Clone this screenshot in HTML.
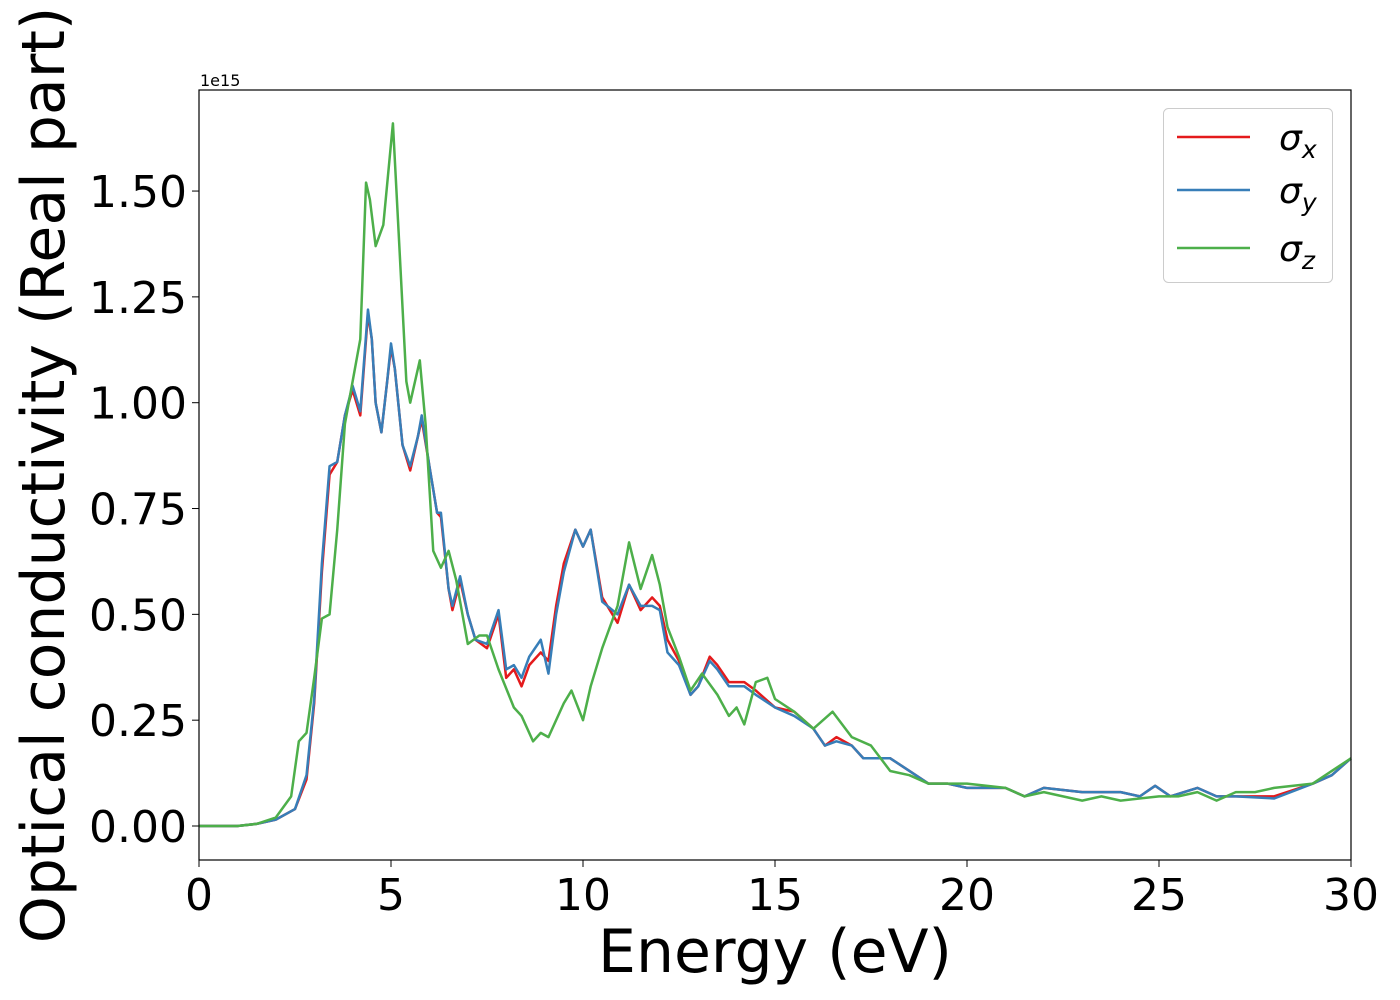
<!DOCTYPE html>
<html><head><meta charset="utf-8"><style>
body{margin:0;background:#fff;}
svg{display:block;font-family:"DejaVu Sans","Liberation Sans",sans-serif;}
</style></head><body>
<svg id="chart" width="1400" height="1000" xmlns="http://www.w3.org/2000/svg">
<g id="plot"></g>
<rect x="199" y="90" width="1152" height="770" fill="none" stroke="#000" stroke-width="1.2"/>
<g id="xticks"></g>
<g id="yticks"></g>
<text x="200" y="86" font-size="16">1e15</text>
<text x="775" y="972" font-size="60" text-anchor="middle">Energy (eV)</text>
<text transform="translate(64,475) rotate(-90)" font-size="60" text-anchor="middle">Optical conductivity (Real part)</text>
<g>
<rect x="1163.5" y="108.5" width="169" height="174" rx="5" fill="#fff" fill-opacity="0.8" stroke="#ccc"/>
<g><line x1="1177" y1="137" x2="1250" y2="137" stroke="#e41a1c" stroke-width="2.5"/><text x="1279" y="150" font-size="36" font-style="italic">σ<tspan font-size="25" dy="8">x</tspan></text></g>
<g><line x1="1177" y1="190" x2="1250" y2="190" stroke="#377eb8" stroke-width="2.5"/><text x="1279" y="203" font-size="36" font-style="italic">σ<tspan font-size="25" dy="8">y</tspan></text></g>
<g><line x1="1177" y1="248" x2="1250" y2="248" stroke="#4daf4a" stroke-width="2.5"/><text x="1279" y="261" font-size="36" font-style="italic">σ<tspan font-size="25" dy="8">z</tspan></text></g>
</g>
</svg>
<script>
const energyXY=[0,1,1.5,2,2.5,2.8,3.0,3.2,3.4,3.6,3.8,4.0,4.2,4.4,4.5,4.6,4.75,4.9,5.0,5.1,5.3,5.5,5.7,5.8,6.0,6.2,6.3,6.5,6.6,6.8,7.0,7.2,7.5,7.8,8.0,8.2,8.4,8.6,8.9,9.1,9.3,9.5,9.8,10.0,10.2,10.5,10.9,11.2,11.5,11.8,12.0,12.2,12.5,12.8,13.0,13.3,13.5,13.8,14.2,14.5,15,15.5,16,16.3,16.6,17,17.3,18,18.5,19,19.5,20,21,21.5,22,23,24,24.5,24.9,25.3,26,26.5,27,28,29,29.5,30];
const sigmaX=[0,0,0.005,0.015,0.04,0.11,0.29,0.6,0.83,0.86,0.97,1.03,0.97,1.21,1.15,1.0,0.93,1.05,1.13,1.08,0.9,0.84,0.92,0.96,0.85,0.74,0.73,0.56,0.51,0.58,0.5,0.44,0.42,0.5,0.35,0.37,0.33,0.38,0.41,0.39,0.52,0.62,0.7,0.66,0.7,0.54,0.48,0.57,0.51,0.54,0.52,0.44,0.39,0.31,0.33,0.4,0.38,0.34,0.34,0.32,0.28,0.27,0.23,0.19,0.21,0.19,0.16,0.16,0.13,0.1,0.1,0.09,0.09,0.07,0.09,0.08,0.08,0.07,0.095,0.07,0.09,0.07,0.07,0.07,0.1,0.12,0.16];
const sigmaY=[0,0,0.005,0.015,0.04,0.12,0.3,0.62,0.85,0.86,0.97,1.04,0.98,1.22,1.15,1.0,0.93,1.05,1.14,1.08,0.9,0.85,0.92,0.97,0.85,0.74,0.74,0.56,0.52,0.59,0.5,0.44,0.43,0.51,0.37,0.38,0.35,0.4,0.44,0.36,0.5,0.6,0.7,0.66,0.7,0.53,0.5,0.57,0.52,0.52,0.51,0.41,0.38,0.31,0.33,0.39,0.37,0.33,0.33,0.31,0.28,0.26,0.23,0.19,0.2,0.19,0.16,0.16,0.13,0.1,0.1,0.09,0.09,0.07,0.09,0.08,0.08,0.07,0.095,0.07,0.09,0.07,0.07,0.065,0.1,0.12,0.16];
const energyZ=[0,1,1.5,2,2.4,2.6,2.8,3.0,3.2,3.4,3.6,3.8,4.0,4.2,4.35,4.45,4.6,4.8,5.05,5.2,5.4,5.5,5.75,5.9,6.1,6.3,6.5,6.7,7.0,7.3,7.5,7.8,8.2,8.4,8.7,8.9,9.1,9.5,9.7,10.0,10.2,10.5,10.9,11.2,11.5,11.8,12.0,12.2,12.5,12.8,13.1,13.5,13.8,14.0,14.2,14.5,14.8,15,15.5,16,16.5,17,17.5,18,18.5,19,19.5,20,21,21.5,22,23,23.5,24,25,25.5,26,26.5,27,27.5,28,29,29.5,30];
const sigmaZ=[0,0,0.005,0.02,0.07,0.2,0.22,0.35,0.49,0.5,0.7,0.95,1.05,1.15,1.52,1.48,1.37,1.42,1.66,1.4,1.05,1.0,1.1,0.95,0.65,0.61,0.65,0.58,0.43,0.45,0.45,0.37,0.28,0.26,0.2,0.22,0.21,0.29,0.32,0.25,0.33,0.42,0.52,0.67,0.56,0.64,0.57,0.47,0.4,0.32,0.36,0.31,0.26,0.28,0.24,0.34,0.35,0.3,0.27,0.23,0.27,0.21,0.19,0.13,0.12,0.1,0.1,0.1,0.09,0.07,0.08,0.06,0.07,0.06,0.07,0.07,0.08,0.06,0.08,0.08,0.09,0.1,0.13,0.16];
const xTickLabels=["0","5","10","15","20","25","30"];
const xTickValues=[0,5,10,15,20,25,30];
const yTickLabels=["0.00","0.25","0.50","0.75","1.00","1.25","1.50"];
const yTickValues=[0,0.25,0.5,0.75,1.0,1.25,1.5];

const NS="http://www.w3.org/2000/svg";
function xs(v){return 199+v*(1152/30);}
function ys(v){return 826-v*423.3;}
const plot=document.getElementById('plot');
function series(ex,vals,color,name){
  const p=document.createElementNS(NS,'polyline');
  p.setAttribute('points',ex.map((e,i)=>xs(e)+','+ys(vals[i])).join(' '));
  p.setAttribute('fill','none');p.setAttribute('stroke',color);p.setAttribute('stroke-width','2.5');
  p.setAttribute('stroke-linejoin','round');
  
  
  plot.appendChild(p);
}
series(energyXY,sigmaX,'#e41a1c','sigma-x-line');
series(energyXY,sigmaY,'#377eb8','sigma-y-line');
series(energyZ,sigmaZ,'#4daf4a','sigma-z-line');
const xg=document.getElementById('xticks');
xTickValues.forEach((v,i)=>{
  const l=document.createElementNS(NS,'line');
  l.setAttribute('x1',xs(v));l.setAttribute('x2',xs(v));l.setAttribute('y1',860);l.setAttribute('y2',867);l.setAttribute('stroke','#000');
  
  
  xg.appendChild(l);
  const t=document.createElementNS(NS,'text');
  t.setAttribute('x',xs(v));t.setAttribute('y',910);t.setAttribute('font-size','44');t.setAttribute('text-anchor','middle');
  t.textContent=xTickLabels[i];
  
  
  xg.appendChild(t);
});
const yg=document.getElementById('yticks');
yTickValues.forEach((v,i)=>{
  const l=document.createElementNS(NS,'line');
  l.setAttribute('x1',192);l.setAttribute('x2',199);l.setAttribute('y1',ys(v));l.setAttribute('y2',ys(v));l.setAttribute('stroke','#000');
  
  
  yg.appendChild(l);
  const t=document.createElementNS(NS,'text');
  t.setAttribute('x',187);t.setAttribute('y',ys(v)+16);t.setAttribute('font-size','44');t.setAttribute('text-anchor','end');
  t.textContent=yTickLabels[i];
  
  
  yg.appendChild(t);
});
</script>
</body></html>
